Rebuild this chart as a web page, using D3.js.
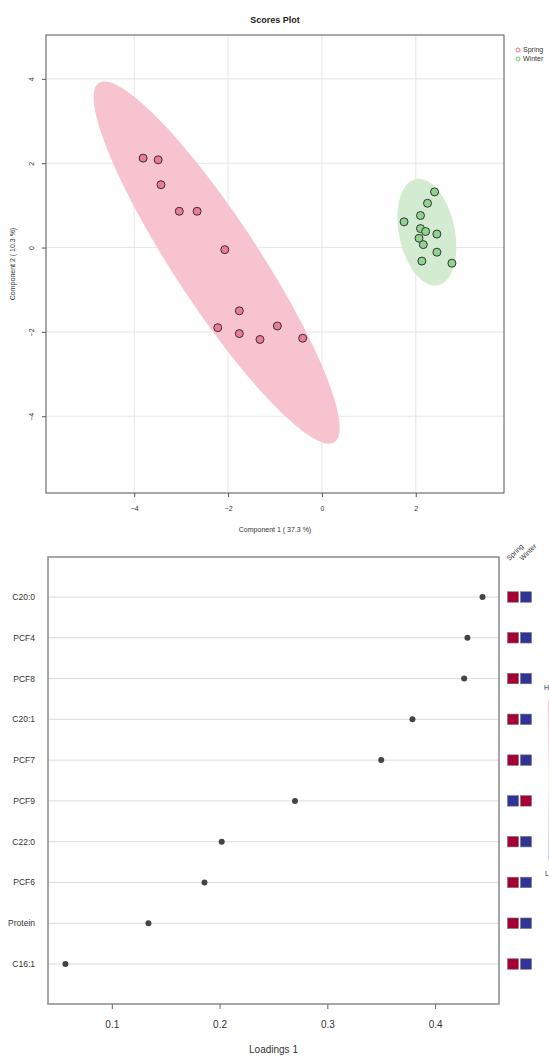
<!DOCTYPE html>
<html>
<head>
<meta charset="utf-8">
<script src="https://cdn.jsdelivr.net/npm/d3@7"></script>
<style>
  body { margin: 0; background: #fff; }
  svg { display: block; font-family: "Liberation Sans", Arial, sans-serif; }
</style>
</head>
<body>
<div id="chart"></div>
<script>
// ---- data ----
let groups = ["Spring", "Winter"];

let springPC1 = [-3.81, -3.49, -3.43, -3.04, -2.66, -2.07, -1.76, -2.22, -1.76, -1.32, -0.95, -0.41];
let springPC2 = [2.12, 2.08, 1.49, 0.86, 0.86, -0.05, -1.50, -1.90, -2.04, -2.18, -1.86, -2.15];
let winterPC1 = [2.40, 2.25, 2.10, 1.75, 2.10, 2.21, 2.45, 2.07, 2.16, 2.45, 2.13, 2.77];
let winterPC2 = [1.32, 1.05, 0.76, 0.61, 0.45, 0.38, 0.32, 0.22, 0.07, -0.11, -0.32, -0.37];

let scoreTicksX = [-4, -2, 0, 2];
let scoreTicksY = [-4, -2, 0, 2, 4];

let features = ["C20:0", "PCF4", "PCF8", "C20:1", "PCF7", "PCF9", "C22:0", "PCF6", "Protein", "C16:1"];
let loadings = [0.444, 0.430, 0.427, 0.379, 0.350, 0.270, 0.202, 0.186, 0.134, 0.057];
// 1 = high, 0 = low (heat key columns)
let springHigh = [1, 1, 1, 1, 1, 0, 1, 1, 1, 1];
let winterHigh = [0, 0, 0, 0, 0, 1, 0, 0, 0, 0];
let loadingTicks = [0.1, 0.2, 0.3, 0.4];

let svgWidth = 549;
let svgHeight = 1056;

let svg = d3.select("#chart")
    .append("svg")
    .attr("width", svgWidth)
    .attr("height", svgHeight);

// ================= Scores plot =================
let sp = { left: 46, right: 504, top: 35, bottom: 493 };

let x1 = d3.scaleLinear().domain([-5.88, 3.88]).range([sp.left, sp.right]);
let y1 = d3.scaleLinear().domain([-5.82, 5.04]).range([sp.bottom, sp.top]);

let scoreGroups = [
    { name: "Spring", xs: springPC1, ys: springPC2, fill: "#F7C3CF", pt: "#EC7B93", stroke: "#F06C8A" },
    { name: "Winter", xs: winterPC1, ys: winterPC2, fill: "#D3ECD1", pt: "#8FD38F", stroke: "#6CCB6C" }
];

// grid
svg.append("g").selectAll("line")
    .data(scoreTicksX)
    .enter().append("line")
    .attr("x1", d => x1(d)).attr("x2", d => x1(d))
    .attr("y1", sp.top).attr("y2", sp.bottom)
    .attr("stroke", "#e6e6e6").attr("stroke-width", 1);

svg.append("g").selectAll("line")
    .data(scoreTicksY)
    .enter().append("line")
    .attr("x1", sp.left).attr("x2", sp.right)
    .attr("y1", d => y1(d)).attr("y2", d => y1(d))
    .attr("stroke", "#e6e6e6").attr("stroke-width", 1);

// 95% confidence ellipse from the group's covariance
function ellipsePath(xs, ys) {
    let n = xs.length;
    let mx = d3.mean(xs), my = d3.mean(ys);
    let sxx = 0, syy = 0, sxy = 0;
    for (let i = 0; i < n; i++) {
        sxx += (xs[i] - mx) ** 2;
        syy += (ys[i] - my) ** 2;
        sxy += (xs[i] - mx) * (ys[i] - my);
    }
    sxx /= n - 1; syy /= n - 1; sxy /= n - 1;
    let tr = sxx + syy, det = sxx * syy - sxy * sxy;
    let disc = Math.sqrt(tr * tr / 4 - det);
    let l1 = tr / 2 + disc, l2 = tr / 2 - disc;
    let ang = Math.atan2(l1 - sxx, sxy);
    let t = Math.sqrt(5.991);
    let pts = d3.range(0, 361, 3).map(deg => {
        let a = deg * Math.PI / 180;
        let u = t * Math.sqrt(l1) * Math.cos(a);
        let v = t * Math.sqrt(l2) * Math.sin(a);
        let ex = mx + u * Math.cos(ang) - v * Math.sin(ang);
        let ey = my + u * Math.sin(ang) + v * Math.cos(ang);
        return [x1(ex), y1(ey)];
    });
    return d3.line()(pts) + "Z";
}

svg.append("g").selectAll("path")
    .data(scoreGroups)
    .enter().append("path")
    .attr("d", d => ellipsePath(d.xs, d.ys))
    .attr("fill", d => d.fill)
    .attr("stroke", "none");

// points
scoreGroups.forEach(g => {
    svg.append("g").selectAll("circle")
        .data(d3.range(g.xs.length))
        .enter().append("circle")
        .attr("cx", i => x1(g.xs[i]))
        .attr("cy", i => y1(g.ys[i]))
        .attr("r", 4)
        .attr("fill", g.pt)
        .attr("stroke", "#333")
        .attr("stroke-width", 1);
});

// box
svg.append("rect")
    .attr("x", sp.left).attr("y", sp.top)
    .attr("width", sp.right - sp.left).attr("height", sp.bottom - sp.top)
    .attr("fill", "none").attr("stroke", "#555").attr("stroke-width", 1);

// x axis
let xAxis1 = svg.append("g")
    .attr("transform", `translate(0, ${sp.bottom})`)
    .call(d3.axisBottom(x1).tickValues(scoreTicksX).tickSize(4).tickPadding(9).tickFormat(d3.format("d")));
xAxis1.select(".domain").remove();
xAxis1.selectAll("line").attr("stroke", "#555");
xAxis1.selectAll("text").attr("font-size", 7).attr("fill", "#333").attr("font-family", "Liberation Sans, Arial, sans-serif");

// y axis (labels parallel to axis)
let yAxis1 = svg.append("g")
    .attr("transform", `translate(${sp.left}, 0)`)
    .call(d3.axisLeft(y1).tickValues(scoreTicksY).tickSize(4).tickFormat(d3.format("d")));
yAxis1.select(".domain").remove();
yAxis1.selectAll("line").attr("stroke", "#555");
yAxis1.selectAll("text")
    .attr("font-size", 7).attr("fill", "#333").attr("font-family", "Liberation Sans, Arial, sans-serif")
    .attr("x", 0).attr("dy", 0)
    .attr("text-anchor", "middle")
    .attr("transform", "translate(-12, 0) rotate(-90)");

svg.append("text")
    .attr("x", (sp.left + sp.right) / 2).attr("y", 23)
    .attr("text-anchor", "middle")
    .attr("font-size", 9).attr("font-weight", "bold").attr("fill", "#222")
    .text("Scores Plot");

svg.append("text")
    .attr("x", (sp.left + sp.right) / 2).attr("y", 532)
    .attr("text-anchor", "middle")
    .attr("font-size", 7).attr("fill", "#333")
    .text("Component 1 ( 37.3 %)");

svg.append("text")
    .attr("transform", `translate(15, ${(sp.top + sp.bottom) / 2}) rotate(-90)`)
    .attr("text-anchor", "middle")
    .attr("font-size", 7).attr("fill", "#333")
    .text("Component 2 ( 10.3 %)");

// legend
let legend = svg.append("g").selectAll("g")
    .data(scoreGroups)
    .enter().append("g")
    .attr("transform", (d, i) => `translate(518, ${50 + i * 9})`);
legend.append("circle")
    .attr("r", 2).attr("fill", "none")
    .attr("stroke", d => d.stroke).attr("stroke-width", 1);
legend.append("text")
    .attr("x", 5).attr("dy", "0.35em")
    .attr("font-size", 7).attr("fill", "#333")
    .text(d => d.name);

// ================= Loadings plot =================
let lp = { left: 48, right: 499, top: 557, bottom: 1004 };

let x2 = d3.scaleLinear().domain([0.0408, 0.4593]).range([lp.left, lp.right]);
let y2 = d3.scalePoint().domain(features).range([597, 964]);

svg.append("g").selectAll("line")
    .data(features)
    .enter().append("line")
    .attr("x1", lp.left).attr("x2", lp.right)
    .attr("y1", d => y2(d)).attr("y2", d => y2(d))
    .attr("stroke", "#dcdcdc").attr("stroke-width", 1);

svg.append("g").selectAll("circle")
    .data(features)
    .enter().append("circle")
    .attr("cx", (d, i) => x2(loadings[i]))
    .attr("cy", d => y2(d))
    .attr("r", 3)
    .attr("fill", "#444");

svg.append("rect")
    .attr("x", lp.left).attr("y", lp.top)
    .attr("width", lp.right - lp.left).attr("height", lp.bottom - lp.top)
    .attr("fill", "none").attr("stroke", "#8a8a8a").attr("stroke-width", 1.5);

// feature names
svg.append("g").selectAll("text")
    .data(features)
    .enter().append("text")
    .attr("x", 35).attr("y", d => y2(d))
    .attr("dy", "0.35em")
    .attr("text-anchor", "end")
    .attr("font-size", 8.5).attr("fill", "#333")
    .text(d => d);

let xAxis2 = svg.append("g")
    .attr("transform", `translate(0, ${lp.bottom})`)
    .call(d3.axisBottom(x2).tickValues(loadingTicks).tickSize(5).tickPadding(12).tickFormat(d3.format(".1f")));
xAxis2.select(".domain").remove();
xAxis2.selectAll("line").attr("stroke", "#666");
xAxis2.selectAll("text").attr("font-size", 10).attr("fill", "#333").attr("font-family", "Liberation Sans, Arial, sans-serif");

svg.append("text")
    .attr("x", (lp.left + lp.right) / 2).attr("y", 1053)
    .attr("text-anchor", "middle")
    .attr("font-size", 10).attr("fill", "#333")
    .text("Loadings 1");

// heat key squares
let colX = d3.scaleBand().domain(groups).range([507.5, 531.5]).paddingInner(0.15);
let heatColor = d3.scaleOrdinal().domain([0, 1]).range(["#313398", "#A50035"]);
let heatVals = { Spring: springHigh, Winter: winterHigh };
let sq = 10.5;

groups.forEach(g => {
    svg.append("g").selectAll("rect")
        .data(features)
        .enter().append("rect")
        .attr("x", colX(g))
        .attr("y", d => y2(d) - sq / 2)
        .attr("width", colX.bandwidth())
        .attr("height", sq)
        .attr("fill", (d, i) => heatColor(heatVals[g][i]))
        .attr("stroke", "#777").attr("stroke-width", 0.6);
});

svg.append("g").selectAll("text")
    .data(groups)
    .enter().append("text")
    .attr("transform", d => `translate(${colX(d) + 2}, 561) rotate(-45)`)
    .attr("font-size", 7).attr("fill", "#333")
    .text(d => d);

// colour key (mostly cut off at the right edge)
let defs = svg.append("defs");
let grad = defs.append("linearGradient")
    .attr("id", "keyGrad").attr("x1", 0).attr("x2", 0).attr("y1", 0).attr("y2", 1);
grad.append("stop").attr("offset", "0%").attr("stop-color", "#F6C7D3");
grad.append("stop").attr("offset", "50%").attr("stop-color", "#FBF3E6");
grad.append("stop").attr("offset", "100%").attr("stop-color", "#C9D3EE");

svg.append("rect")
    .attr("x", 548).attr("y", 700)
    .attr("width", 6).attr("height", 160)
    .attr("fill", "url(#keyGrad)");

svg.append("text").attr("x", 544).attr("y", 690)
    .attr("font-size", 7).attr("fill", "#333").text("H");
svg.append("text").attr("x", 545).attr("y", 876)
    .attr("font-size", 7).attr("fill", "#333").text("L");
</script>
</body>
</html>
